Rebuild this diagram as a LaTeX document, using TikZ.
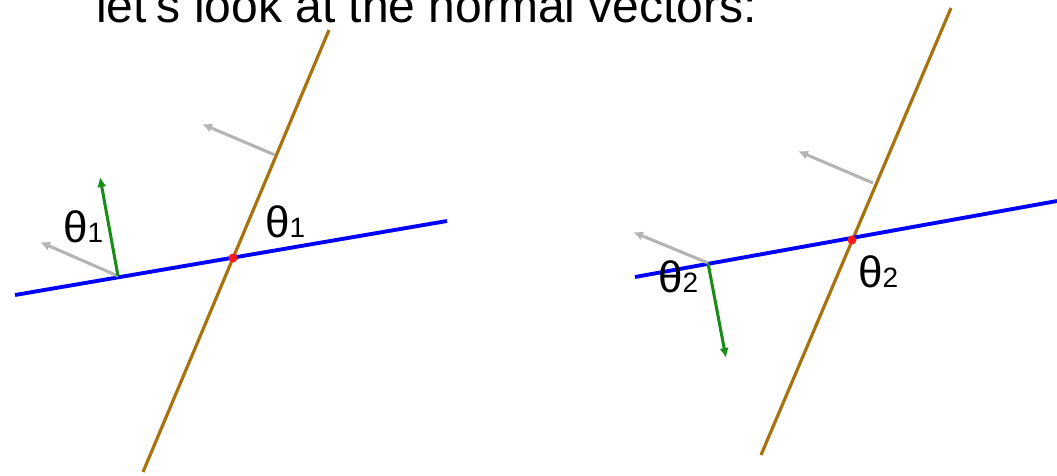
\documentclass[tikz,border=0pt]{standalone}
\usepackage{fontspec}
\setmainfont{Liberation Sans}
\usepackage{tikz}
\usetikzlibrary{arrows.meta}
\definecolor{lineblue}{HTML}{0000FF}
\definecolor{linebrown}{HTML}{A8720F}
\definecolor{linegray}{HTML}{B4B4B4}
\definecolor{linegreen}{HTML}{1A8C1A}
\definecolor{dotred}{HTML}{FF1A1A}
\tikzset{
  wall/.style={linebrown,line width=2.4pt},
  ray/.style={lineblue,line width=2.9pt},
  oldnormal/.style={linegray,line width=2.3pt,-{Latex[length=7.5pt,width=7pt]}},
  newnormal/.style={linegreen,line width=2.3pt,-{Latex[length=7.5pt,width=7pt]}},
  anglelabel/.style={anchor=base west,inner sep=0pt,font=\fontsize{33}{33}\selectfont},
}
\newcommand{\sublabel}[1]{{\fontsize{21}{21}\selectfont #1}}

\begin{document}
\begin{tikzpicture}[x=0.75pt,y=-0.75pt]
\useasboundingbox (0,0) rectangle (1057,475);
\node[anchor=base west,inner sep=0pt,font=\fontsize{36}{36}\selectfont] (title) at (96,22) {let's look at the normal vectors:};
% left picture
\coordinate (wallAtop) at (329,30);
\coordinate (wallAbot) at (143,472);
\coordinate (rayAleft) at (15,295);
\coordinate (rayAright) at (447,221);
\coordinate (hitA) at (233,258);
\coordinate (footAtop) at (275,155);
\coordinate (tipAtop) at (202,124);
\coordinate (footAlow) at (118,276);
\coordinate (tipAlow) at (40,242);
\coordinate (tipAgreen) at (100,177);
\draw[wall] (wallAbot) -- (wallAtop);
\draw[ray] (rayAleft) -- (rayAright);
\draw[oldnormal] (footAtop) -- (tipAtop);
\draw[oldnormal] (footAlow) -- (tipAlow);
\draw[newnormal] (footAlow) -- (tipAgreen);
\fill[dotred] (hitA) circle (4.5);
\node[anglelabel] (thetaAleft) at (63,242) {θ\sublabel{1}};
\node[anglelabel] (thetaAright) at (265,237) {θ\sublabel{1}};
% right picture
\coordinate (wallBtop) at (951,8);
\coordinate (wallBbot) at (761,455);
\coordinate (rayBleft) at (635,277);
\coordinate (rayBright) at (1057,201);
\coordinate (hitB) at (852,240);
\coordinate (footBtop) at (873,183);
\coordinate (tipBtop) at (798,151);
\coordinate (footBlow) at (708,263);
\coordinate (tipBlow) at (633,232);
\coordinate (tipBgreen) at (726,358);
\draw[wall] (wallBbot) -- (wallBtop);
\draw[ray] (rayBleft) -- (rayBright);
\draw[oldnormal] (footBtop) -- (tipBtop);
\draw[oldnormal] (footBlow) -- (tipBlow);
\draw[newnormal] (footBlow) -- (tipBgreen);
\fill[dotred] (hitB) circle (4.5);
\node[anglelabel] (thetaBleft) at (658,292) {θ\sublabel{2}};
\node[anglelabel] (thetaBright) at (858,287) {θ\sublabel{2}};
\end{tikzpicture}
\end{document}
